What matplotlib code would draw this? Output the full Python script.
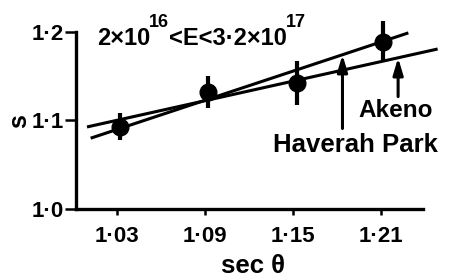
import numpy as np
import matplotlib
matplotlib.use("Agg")
import matplotlib.pyplot as plt

# ---- data ----
sec_theta = [1.032, 1.092, 1.153, 1.212]
s_values = [1.093, 1.132, 1.142, 1.189]
s_errors = [0.015, 0.018, 0.025, 0.023]

# fitted lines (endpoints)
hp_x = [1.012, 1.229]
hp_y = [1.080, 1.199]
ak_x = [1.0095, 1.249]
ak_y = [1.0927, 1.1808]

# arrow positions (x, base y)
hp_arrow = (1.184, 1.091)
ak_arrow = (1.222, 1.127)

xticks = [1.03, 1.09, 1.15, 1.21]
xticklabels = ["1·03", "1·09", "1·15", "1·21"]
yticks = [1.0, 1.1, 1.2]
yticklabels = ["1·0", "1·1", "1·2"]

# title pieces: (text, is_superscript)
title_parts = [("2×10", False), ("16", True), ("<E<3·2×10", False), ("17", True)]

FONT = "Liberation Sans"
plt.rcParams['font.family'] = [FONT, 'DejaVu Sans']
plt.rcParams['font.weight'] = 'bold'

W, H = 449, 277
fig = plt.figure(figsize=(W / 100, H / 100), dpi=100)
ax = fig.add_axes([76 / W, 1 - 209 / H, (423 - 76) / W, (209 - 32) / H])

ax.set_xlim(1.002, 1.239)
ax.set_ylim(1.0, 1.2)

for side in ['top', 'right']:
    ax.spines[side].set_visible(False)
for side in ['left', 'bottom']:
    ax.spines[side].set_linewidth(2.4)

ax.set_xticks(xticks)
ax.set_xticklabels(xticklabels, fontsize=16)
ax.set_yticks(yticks)
ax.set_yticklabels(yticklabels, fontsize=16)
ax.tick_params(axis='x', direction='out', length=4, width=1.8, pad=8)
ax.tick_params(axis='y', direction='out', length=8, width=1.8, pad=1)

# lines
ax.plot(hp_x, hp_y, color='black', lw=2.2, clip_on=False, solid_capstyle='butt')
ax.plot(ak_x, ak_y, color='black', lw=2.2, clip_on=False, solid_capstyle='butt')

# data points
ax.errorbar(sec_theta, s_values, yerr=s_errors, fmt='o', color='black',
            markersize=12, elinewidth=3.0, capsize=0, clip_on=False, zorder=5)

# arrows
hp_tip = np.interp(hp_arrow[0], hp_x, hp_y)
ak_tip = np.interp(ak_arrow[0], ak_x, ak_y)
for (x0, yb), tip in [(hp_arrow, hp_tip), (ak_arrow, ak_tip)]:
    ax.annotate('', xy=(x0, tip), xytext=(x0, yb),
                arrowprops=dict(arrowstyle='-|>,head_length=1.0,head_width=0.3',
                                color='black', lw=2.2, shrinkA=0, shrinkB=0))

# labels
fig.text(358 / W, 1 - 117 / H, "Akeno", fontsize=17.5, va='baseline', ha='left')
fig.text(273 / W, 1 - 152 / H, "Haverah Park", fontsize=18.5, va='baseline', ha='left')
fig.text(253 / W, 1 - 273 / H, "sec θ", fontsize=18.5, va='baseline', ha='center')
fig.text(19 / W, 1 - 121 / H, "s", fontsize=18, rotation=90, va='center', ha='center')

# title built from pieces (large superscripts)
renderer = fig.canvas.get_renderer()
xpix = 97
for txt, sup in title_parts:
    if sup:
        t = fig.text(xpix / W, 1 - 27 / H, txt, fontsize=13, va='baseline', ha='left')
    else:
        t = fig.text(xpix / W, 1 - 45 / H, txt, fontsize=17, va='baseline', ha='left')
    bb = t.get_window_extent(renderer=renderer)
    xpix = bb.x1 + (0 if sup else -1)

fig.savefig("out.png", dpi=100)
